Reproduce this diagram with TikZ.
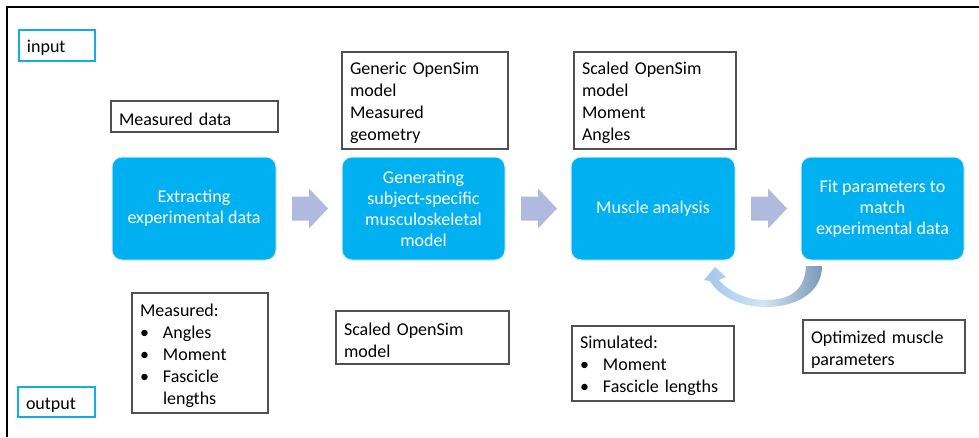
\documentclass[tikz,border=0pt]{standalone}
\usepackage{fontspec}
\setmainfont{Carlito}
\usetikzlibrary{calc}

\definecolor{stepblue}{RGB}{0,176,240}
\definecolor{stepedge}{RGB}{205,236,250}
\definecolor{blockarrow}{RGB}{176,186,222}
\definecolor{boxline}{RGB}{80,80,80}
\definecolor{tagline}{RGB}{20,172,232}
\definecolor{loopleft}{RGB}{160,198,232}
\definecolor{loopright}{RGB}{122,152,182}

\tikzset{
  every node/.style={font=\fontsize{18}{22}\selectfont, inner sep=0pt, outer sep=0pt},
  stepbox/.style={anchor=north west, fill=stepblue, draw=stepedge, line width=1pt,
    rounded corners=10pt, text=white, align=center,
    minimum width=164pt, minimum height=103pt, font=\fontsize{18}{21}\selectfont},
  infobox/.style={anchor=north west, draw=boxline, line width=1.2pt, align=left, inner xsep=8pt,
    execute at begin node={\rule{0pt}{18pt}}},
  tagbox/.style={anchor=north west, draw=tagline, line width=1.5pt, align=left, inner xsep=8pt,
    execute at begin node={\rule{0pt}{17pt}}},
  flowarrow/.style={fill=blockarrow},
  looparrow/.style={left color=loopleft, right color=loopright, middle color=white!55!loopleft}
}
\newcommand{\bulletitem}{\makebox[23pt][l]{•}}

\begin{document}
\begin{tikzpicture}[x=1pt,y=-1pt]
  \useasboundingbox (0,0) rectangle (979,437);

  % outer frame (top and left edges)
  \draw[line width=1.5pt] (7,437) -- (7,7) -- (979,7);

  % input / output tags
  \node[tagbox, text width=60pt, minimum height=31pt] (inputtag) at (19,30) {input};
  \node[tagbox, text width=61pt, minimum height=30pt] (outputtag) at (18,387) {output};

  % main process steps
  \node[stepbox] (extract) at (112,157) {Extracting\\experimental data};
  \node[stepbox, minimum width=163pt] (generate) at (342,157) {Generating\\subject-specific\\musculoskeletal\\model};
  \node[stepbox] (analyse) at (571,157) {Muscle analysis};
  \node[stepbox, minimum width=163pt] (fit) at (801,157) {Fit parameters to\\match\\experimental data};

  % inputs of each step
  \node[infobox, text width=151pt, minimum height=31pt] (mdata) at (111,101) {Measured data};
  \node[infobox, text width=150pt, minimum height=97pt] (generic) at (342,52)
    {Generic OpenSim\\model\\Measured\\geometry};
  \node[infobox, text width=146pt, minimum height=97pt] (scaledin) at (574,52)
    {Scaled OpenSim\\model\\Moment\\Angles};

  % outputs of each step
  \node[infobox, text width=120pt, minimum height=120pt] (measured) at (132,293)
    {Measured:\\\bulletitem Angles\\\bulletitem Moment\\\bulletitem Fascicle\\\hspace*{23pt}lengths};
  \node[infobox, text width=157pt, minimum height=53pt] (scaledout) at (336,311)
    {Scaled OpenSim\\model};
  \node[infobox, text width=146pt, minimum height=75pt] (simulated) at (572,326)
    {Simulated:\\\bulletitem Moment\\\bulletitem Fascicle lengths};
  \node[infobox, text width=146pt, minimum height=53pt] (optimized) at (803,320)
    {Optimized muscle\\parameters};

  % block arrows between the steps
  \foreach \a in {extract, generate, analyse}{
    \fill[flowarrow] ($(\a.east)+(16,-12)$) -- ++(17,0) -- ++(0,-8) -- ++(19,20)
      -- ++(-19,20) -- ++(0,-8) -- ++(-17,0) -- cycle;
  }

  % feedback loop from fitting back to muscle analysis
  \shade[looparrow]
    (822,266) .. controls (822,292) and (797,307) .. (766,307)
    .. controls (740,307) and (719,296) .. (710,281)
    -- (704,280) -- (715,267) -- (726,277) -- (719,280)
    .. controls (730,293) and (748,300) .. (766,300)
    .. controls (790,300) and (805,290) .. (806,266) -- cycle;
\end{tikzpicture}
\end{document}
